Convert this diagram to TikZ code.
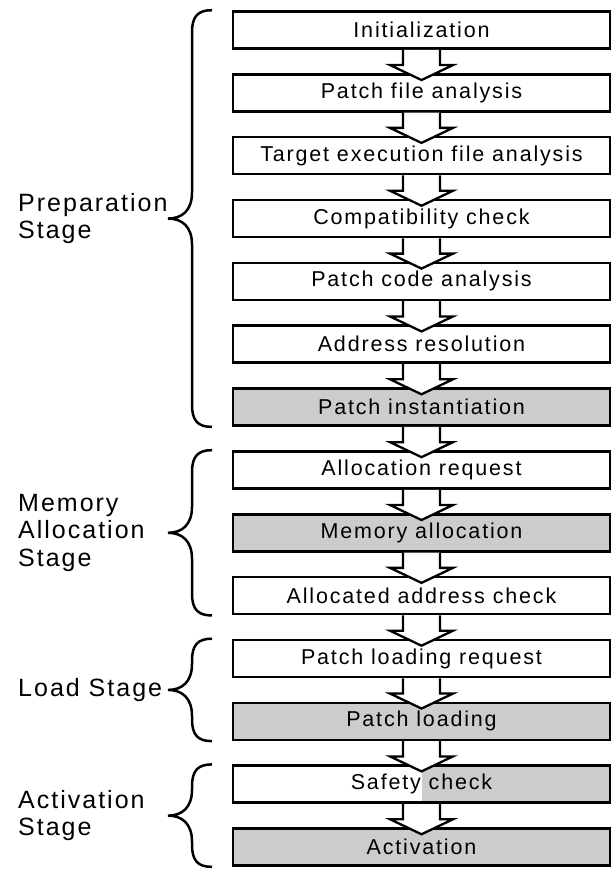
\documentclass[tikz,border=0pt]{standalone}
\usepackage{fontspec}
\setmainfont{Liberation Sans}
\newfontfamily\boxfont{Liberation Sans}[LetterSpace=8.5]
\newfontfamily\labelfont{Liberation Sans}[LetterSpace=8]
\usetikzlibrary{calc}
\definecolor{boxgray}{RGB}{204,204,204}
\tikzset{
 stepbox/.style={draw, line width=2.6pt, minimum width=377pt, minimum height=37pt, inner sep=0pt, fill=white, font=\boxfont\fontsize{21.5}{25}\selectfont},
 graybox/.style={stepbox, fill=boxgray},
 halfbox/.style={stepbox, path picture={\fill[boxgray] (path picture bounding box.north) rectangle (path picture bounding box.south east);}},
 flowline/.style={draw, fill=white, line width=2.3pt},
 bracestyle/.style={draw, line width=2.5pt},
 stagelabel/.style={anchor=west, align=left, inner sep=0pt, font=\labelfont\fontsize{25}{27.5}\selectfont},
}
\newcommand\flowarrow[2]{%
 \coordinate (tp) at ($(#2.north)+(0,-7)$);
 \path[flowline] ($(#1.south)+(-18.5,0)$) |- ($(tp)+(-31.5,15)$) -- (tp) -- ($(tp)+(31.5,15)$) -| ($(#1.south)+(18.5,0)$);
}
\newcommand\stagebrace[2]{%
 \draw[bracestyle] let \p1=(#1.north), \p2=(#2.south), \n1={0.5*(\y1+\y2)} in
 (212,\y1) .. controls (198,\y1) and (192,\y1-6) .. (192,\y1-22)
 -- (192,\n1+26) .. controls (192,\n1+8) and (182,\n1) .. (168,\n1)
 .. controls (182,\n1) and (192,\n1-8) .. (192,\n1-26)
 -- (192,\y2+22) .. controls (192,\y2+6) and (198,\y2) .. (212,\y2);
}
\begin{document}
\begin{tikzpicture}[x=1pt,y=1pt]
\useasboundingbox (0,0) rectangle (615,-869);
\node[stepbox] (b1) at (421.5,-30) {Initialization};
\node[stepbox] (b2) at (421.5,-92.85) {Patch file analysis};
\node[stepbox] (b3) at (421.5,-155.7) {Target execution file analysis};
\node[stepbox] (b4) at (421.5,-218.55) {Compatibility check};
\node[stepbox] (b5) at (421.5,-281.4) {Patch code analysis};
\node[stepbox] (b6) at (421.5,-344.25) {Address resolution};
\node[graybox] (b7) at (421.5,-407.1) {Patch instantiation};
\node[stepbox] (b8) at (421.5,-469.95) {Allocation request};
\node[graybox] (b9) at (421.5,-532.8) {Memory allocation};
\node[stepbox] (b10) at (421.5,-595.65) {Allocated address check};
\node[stepbox] (b11) at (421.5,-658.5) {Patch loading request};
\node[graybox] (b12) at (421.5,-721.35) {Patch loading};
\node[halfbox] (b13) at (421.5,-784.2) {Safety check};
\node[graybox] (b14) at (421.5,-847.05) {Activation};
\flowarrow{b1}{b2}
\flowarrow{b2}{b3}
\flowarrow{b3}{b4}
\flowarrow{b4}{b5}
\flowarrow{b5}{b6}
\flowarrow{b6}{b7}
\flowarrow{b7}{b8}
\flowarrow{b8}{b9}
\flowarrow{b9}{b10}
\flowarrow{b10}{b11}
\flowarrow{b11}{b12}
\flowarrow{b12}{b13}
\flowarrow{b13}{b14}
\stagebrace{b1}{b7}
\stagebrace{b8}{b10}
\stagebrace{b11}{b12}
\stagebrace{b13}{b14}
\coordinate (lx) at (18,0);
\coordinate (mprep) at ($(b1.north)!0.5!(b7.south)$);
\coordinate (mmem) at ($(b8.north)!0.5!(b10.south)$);
\coordinate (mload) at ($(b11.north)!0.5!(b12.south)$);
\coordinate (mact) at ($(b13.north)!0.5!(b14.south)$);
\node[stagelabel] (lprep) at (mprep -| lx) {Preparation\\Stage};
\node[stagelabel] (lmem) at (mmem -| lx) {Memory\\Allocation\\Stage};
\node[stagelabel] (lload) at (mload -| lx) {Load Stage};
\node[stagelabel] (lact) at (mact -| lx) {Activation\\Stage};
\end{tikzpicture}
\end{document}
